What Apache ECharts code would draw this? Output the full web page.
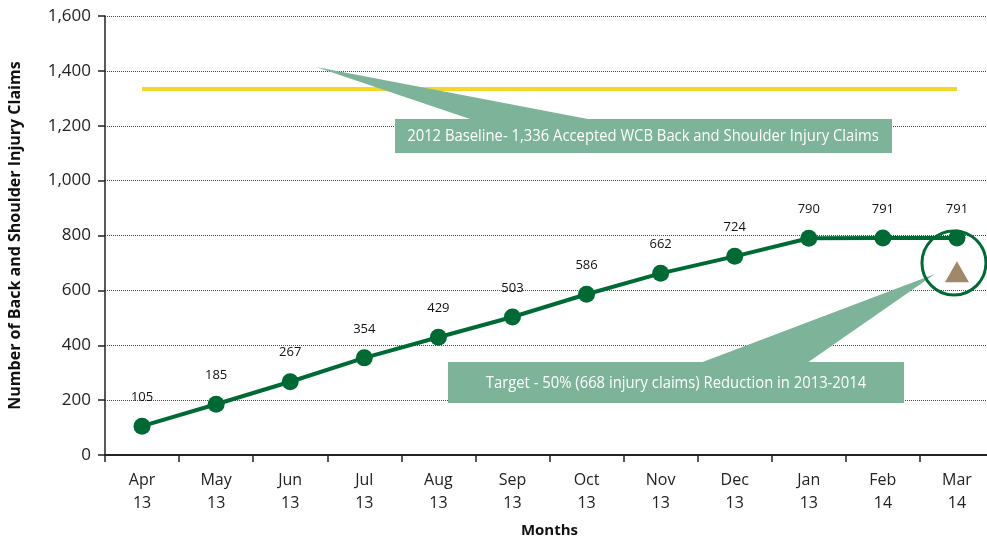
<!DOCTYPE html>
<html>
<head>
<meta charset="utf-8">
<script src="https://cdn.jsdelivr.net/npm/echarts@6/dist/echarts.min.js"></script>
<style>
  html, body { margin: 0; padding: 0; background: #fff; }
  #chart { width: 987px; height: 541px; }
</style>
</head>
<body>
<div id="chart"></div>
<script>
// data
const months = ['Apr\n13', 'May\n13', 'Jun\n13', 'Jul\n13', 'Aug\n13', 'Sep\n13', 'Oct\n13', 'Nov\n13', 'Dec\n13', 'Jan\n13', 'Feb\n14', 'Mar\n14']
const claims = [105, 185, 267, 354, 429, 503, 586, 662, 724, 790, 791, 791]
const baseline = 1336
const target = 668
const yTicks = [0, 200, 400, 600, 800, 1000, 1200, 1400, 1600]

const font = 'Open Sans'
const calloutColor = '#7db399'

const chart = echarts.init(document.getElementById('chart'))

const option = {
  backgroundColor: '#fff',
  animation: false,
  textStyle: {fontFamily: font},
  grid: {left: 105, top: 16, right: -7, bottom: 86, outerBoundsMode: 'none', containLabel: false},
  xAxis: {
    type: 'category',
    data: months,
    boundaryGap: true,
    name: 'Months',
    nameLocation: 'middle',
    nameGap: 68,
    nameTextStyle: {fontFamily: font, fontWeight: 'bold', fontSize: 15, color: '#111'},
    axisLine: {lineStyle: {color: '#222', width: 2}},
    axisTick: {show: true, length: 7, lineStyle: {color: '#222', width: 1.5}},
    axisLabel: {fontSize: 16, lineHeight: 23, margin: 14, color: '#222', fontFamily: font}
  },
  yAxis: {
    type: 'value',
    min: yTicks[0],
    max: yTicks[yTicks.length - 1],
    interval: 200,
    name: 'Number of Back and Shoulder Injury Claims',
    nameLocation: 'middle',
    nameGap: 82,
    nameTextStyle: {fontFamily: font, fontWeight: 'bold', fontSize: 16, color: '#111'},
    axisLine: {show: true, lineStyle: {color: '#222', width: 1.5}},
    axisTick: {show: true, length: 7, lineStyle: {color: '#222', width: 1.5}},
    axisLabel: {
      fontSize: 17, margin: 14, color: '#222', fontFamily: font,
      formatter: v => v.toLocaleString('en-US')
    },
    splitLine: {show: true, lineStyle: {type: 'dotted', color: '#444', width: 1}}
  },
  series: [
    {
      type: 'line',
      data: claims,
      z: 5,
      symbol: 'circle',
      symbolSize: 17,
      itemStyle: {color: '#006a35'},
      lineStyle: {color: '#006a35', width: 4},
      label: {show: true, position: 'top', distance: 14, fontSize: 13, color: '#111', fontFamily: font},
      markLine: {
        silent: true,
        symbol: 'none',
        label: {show: false},
        lineStyle: {color: '#f5d72a', width: 4, type: 'solid'},
        data: [[{coord: [months[0], baseline]}, {coord: [months[months.length - 1], baseline]}]]
      }
    },
    {
      type: 'scatter',
      data: [[months[months.length - 1], target]],
      symbol: 'triangle',
      symbolSize: [24, 21],
      itemStyle: {color: '#8b6a45'},
      z: 6
    }
  ]
}

chart.setOption(option)

// callouts and highlight circle
const last = chart.convertToPixel({gridIndex: 0}, [months.length - 1, 700])
chart.setOption({
  graphic: [
    {type: 'polygon', z: 10, shape: {points: [[316, 67], [473, 120], [593, 120]]}, style: {fill: calloutColor}},
    {type: 'rect', z: 10, shape: {x: 395, y: 119, width: 497, height: 34}, style: {fill: calloutColor}},
    {
      type: 'text', z: 11, x: 643, y: 136, scaleX: 0.925,
      style: {text: '2012 Baseline- 1,336 Accepted WCB Back and Shoulder Injury Claims', fill: '#fff', fontSize: 16, fontFamily: font, align: 'center', verticalAlign: 'middle'}
    },
    {type: 'polygon', z: 10, shape: {points: [[935, 274], [700, 363], [807, 363]]}, style: {fill: calloutColor}},
    {type: 'rect', z: 10, shape: {x: 448, y: 362, width: 456, height: 41}, style: {fill: calloutColor}},
    {
      type: 'text', z: 11, x: 676, y: 383, scaleX: 0.925,
      style: {text: 'Target - 50% (668 injury claims) Reduction in 2013-2014', fill: '#fff', fontSize: 16, fontFamily: font, align: 'center', verticalAlign: 'middle'}
    },
    {
      type: 'circle', z: 12,
      shape: {cx: last[0] - 3, cy: last[1], r: 32},
      style: {fill: 'none', stroke: '#006a35', lineWidth: 3}
    }
  ]
})
</script>
</body>
</html>
